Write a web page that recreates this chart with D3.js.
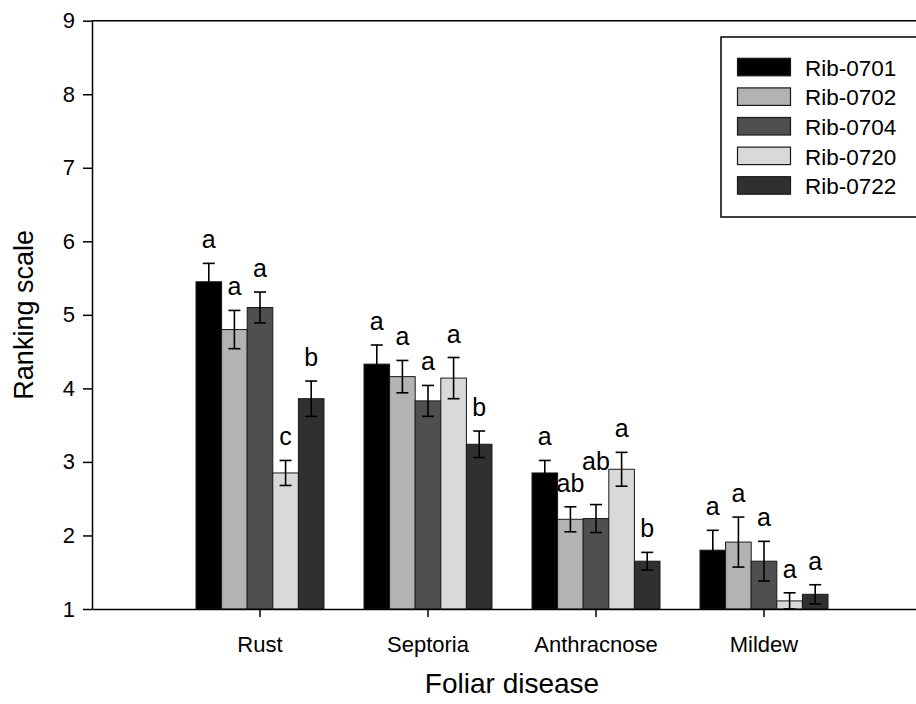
<!DOCTYPE html>
<html>
<head>
<meta charset="utf-8">
<script src="https://cdn.jsdelivr.net/npm/d3@7"></script>
<style>
  html, body { margin: 0; padding: 0; background: #fff; }
  svg { display: block; }
  text { font-family: "Liberation Sans", Arial, Helvetica, sans-serif; fill: #000; }
</style>
</head>
<body>
<svg id="chart" width="916" height="704"></svg>
<script>
// ---- data ----
const categories = ["Rust", "Septoria", "Anthracnose", "Mildew"];
const seriesNames = ["Rib-0701", "Rib-0702", "Rib-0704", "Rib-0720", "Rib-0722"];
const seriesColors = ["#000000", "#b3b3b3", "#4f4f4f", "#d9d9d9", "#303030"];

const rib0701 = [5.45, 4.33, 2.85, 1.80];
const rib0702 = [4.80, 4.16, 2.22, 1.91];
const rib0704 = [5.10, 3.83, 2.23, 1.65];
const rib0720 = [2.85, 4.14, 2.90, 1.11];
const rib0722 = [3.86, 3.24, 1.65, 1.20];

const err0701 = [0.25, 0.26, 0.17, 0.27];
const err0702 = [0.26, 0.22, 0.17, 0.34];
const err0704 = [0.21, 0.21, 0.19, 0.27];
const err0720 = [0.17, 0.28, 0.23, 0.11];
const err0722 = [0.24, 0.18, 0.12, 0.13];

const let0701 = ["a", "a", "a", "a"];
const let0702 = ["a", "a", "ab", "a"];
const let0704 = ["a", "a", "ab", "a"];
const let0720 = ["c", "a", "a", "a"];
const let0722 = ["b", "b", "b", "a"];

const yTicks = [1, 2, 3, 4, 5, 6, 7, 8, 9];

const values = [rib0701, rib0702, rib0704, rib0720, rib0722];
const errors = [err0701, err0702, err0704, err0720, err0722];
const letters = [let0701, let0702, let0704, let0720, let0722];

// ---- layout ----
const svg = d3.select("#chart");
const pLeft = 92, pRight = 932, pTop = 20.7, pBottom = 609;

const x0 = d3.scaleBand().domain(categories).range([pLeft, pRight])
  .paddingInner(40 / 168).paddingOuter(0.619);
const x1 = d3.scaleBand().domain(seriesNames).range([0, x0.bandwidth()]).padding(0);
const y = d3.scaleLinear().domain([1, 9]).range([pBottom, pTop]);

// frame top line
svg.append("line").attr("x1", pLeft).attr("x2", pRight).attr("y1", pTop).attr("y2", pTop)
  .attr("stroke", "#000").attr("stroke-width", 1.5);

// bars
const rows = [];
categories.forEach((c, ci) => {
  seriesNames.forEach((s, si) => {
    rows.push({ c, ci, s, si, v: values[si][ci], e: errors[si][ci], l: letters[si][ci] });
  });
});

const g = svg.append("g");
g.selectAll("rect.bar").data(rows).join("rect")
  .attr("class", "bar")
  .attr("x", d => x0(d.c) + x1(d.s))
  .attr("width", x1.bandwidth())
  .attr("y", d => y(d.v))
  .attr("height", d => y(1) - y(d.v))
  .attr("fill", d => seriesColors[d.si])
  .attr("stroke", "#1a1a1a")
  .attr("stroke-width", 1);

// error bars
const cap = 6;
const cx = d => x0(d.c) + x1(d.s) + x1.bandwidth() / 2;
const eb = g.selectAll("g.err").data(rows).join("g").attr("class", "err")
  .attr("stroke", "#000").attr("stroke-width", 1.6);
eb.append("line")
  .attr("x1", cx).attr("x2", cx)
  .attr("y1", d => y(d.v + d.e)).attr("y2", d => y(d.v - d.e));
eb.append("line")
  .attr("x1", d => cx(d) - cap).attr("x2", d => cx(d) + cap)
  .attr("y1", d => y(d.v + d.e)).attr("y2", d => y(d.v + d.e));
eb.append("line")
  .attr("x1", d => cx(d) - cap).attr("x2", d => cx(d) + cap)
  .attr("y1", d => y(d.v - d.e)).attr("y2", d => y(d.v - d.e));

// significance letters, with simple collision avoidance
const letterFont = 25, gap = 15;
rows.forEach((d, i) => {
  d.lx = cx(d);
  d.ly = y(d.v + d.e) - gap;
  d.lw = d.l.length * 0.556 * letterFont;
  const p = rows[i - 1];
  if (p && p.ci === d.ci) {
    const hOverlap = (d.lx - d.lw / 2) < (p.lx + p.lw / 2);
    if (hOverlap && Math.abs(d.ly - p.ly) < 22) d.ly = Math.min(d.ly, p.ly - 22);
  }
});
g.selectAll("text.lett").data(rows).join("text")
  .attr("class", "lett")
  .attr("x", d => d.lx).attr("y", d => d.ly)
  .attr("text-anchor", "middle")
  .attr("font-size", letterFont)
  .text(d => d.l);

// y axis
const yAxis = svg.append("g").attr("transform", `translate(${pLeft},0)`)
  .call(d3.axisLeft(y).tickValues(yTicks).tickFormat(d3.format("d")).tickSize(9).tickPadding(8).tickSizeOuter(0));
yAxis.select(".domain").attr("stroke", "#000").attr("stroke-width", 1.5);
yAxis.selectAll(".tick line").attr("stroke", "#000").attr("stroke-width", 1.5);
yAxis.selectAll(".tick text").attr("font-size", 22).attr("font-family", "Liberation Sans, Arial, sans-serif").attr("fill", "#000");

// x axis
const xAxis = svg.append("g").attr("transform", `translate(0,${pBottom})`)
  .call(d3.axisBottom(x0).tickSize(8).tickPadding(19).tickSizeOuter(0));
xAxis.select(".domain").attr("stroke", "#000").attr("stroke-width", 1.5);
xAxis.selectAll(".tick line").attr("stroke", "#000").attr("stroke-width", 1.5);
xAxis.selectAll(".tick text").attr("font-size", 22).attr("font-family", "Liberation Sans, Arial, sans-serif").attr("fill", "#000");

// axis titles
svg.append("text").attr("x", 512).attr("y", 693)
  .attr("text-anchor", "middle").attr("font-size", 28).text("Foliar disease");
svg.append("text").attr("transform", `translate(33,${(pTop + pBottom) / 2}) rotate(-90)`)
  .attr("text-anchor", "middle").attr("font-size", 27).text("Ranking scale");

// legend
const lg = svg.append("g");
lg.append("rect").attr("x", 721).attr("y", 37).attr("width", 220).attr("height", 180)
  .attr("fill", "#fff").attr("stroke", "#000").attr("stroke-width", 1.5);
const li = lg.selectAll("g.li").data(seriesNames).join("g").attr("class", "li")
  .attr("transform", (d, i) => `translate(0,${58.3 + i * 29.6})`);
li.append("rect").attr("x", 737.5).attr("y", 0).attr("width", 53).attr("height", 17.5)
  .attr("fill", (d, i) => seriesColors[i]).attr("stroke", "#1a1a1a").attr("stroke-width", 1.2);
li.append("text").attr("x", 805).attr("y", 17.5).attr("font-size", 22.5).text(d => d);
</script>
</body>
</html>
